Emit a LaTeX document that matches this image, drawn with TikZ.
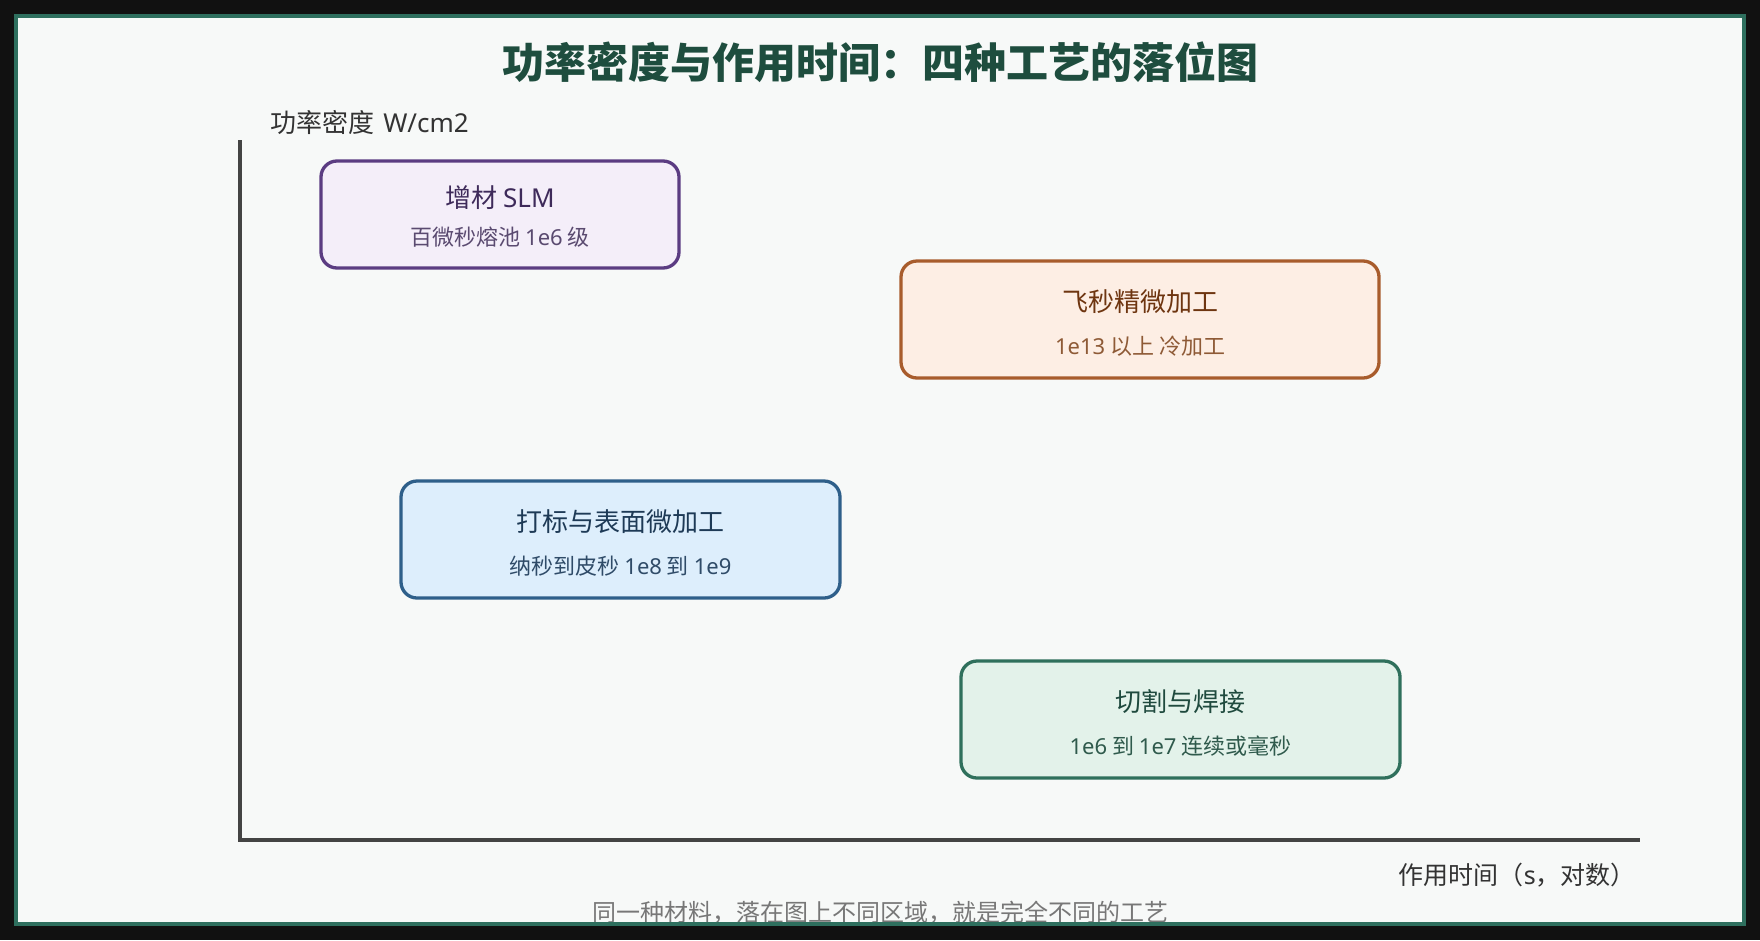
\documentclass[tikz,border=0pt]{standalone}
\usepackage{fontspec}
\setmainfont{Noto Sans CJK SC}
\newfontfamily\latinfont{Noto Sans}
\newcommand{\lword}[1]{{\latinfont #1}}
\usepackage{xcolor}
\definecolor{bgdark}{HTML}{111111}
\definecolor{paper}{HTML}{F7F9F8}
\definecolor{framegreen}{HTML}{2E6F5E}
\definecolor{titlegreen}{HTML}{1E4D3E}
\definecolor{axisgray}{HTML}{444444}
\definecolor{labelgray}{HTML}{333333}
\definecolor{captiongray}{HTML}{777777}
\definecolor{slmline}{HTML}{5B3C82}
\definecolor{slmfill}{HTML}{F4EEF9}
\definecolor{slmhead}{HTML}{3E2A5A}
\definecolor{slmnote}{HTML}{5A4A70}
\definecolor{fsline}{HTML}{A85C2C}
\definecolor{fsfill}{HTML}{FDEEE4}
\definecolor{fshead}{HTML}{6E3510}
\definecolor{fsnote}{HTML}{8E5A36}
\definecolor{markline}{HTML}{2E5F8A}
\definecolor{markfill}{HTML}{DDEEFC}
\definecolor{markhead}{HTML}{1E3A56}
\definecolor{marknote}{HTML}{2F4B68}
\definecolor{cutline}{HTML}{2F705C}
\definecolor{cutfill}{HTML}{E3F2EA}
\definecolor{cuthead}{HTML}{1F4A3E}
\definecolor{cutnote}{HTML}{2F5A4C}

\begin{document}
\begin{tikzpicture}[x=1pt,y=-1pt]
      \tikzstyle{every node}+=[inner sep=0pt]
      \tikzstyle{region}=[draw, line width=3.3pt, rounded corners=16pt, minimum height=117pt]
      \tikzstyle{head}=[font=\fontsize{26}{31}\selectfont]
      \tikzstyle{note}=[font=\fontsize{22}{26}\selectfont]
      \tikzstyle{axislabel}=[font=\fontsize{25}{30}\selectfont, text=labelgray]
      \useasboundingbox (0,0) rectangle (1760,940);
      \fill [bgdark] (0,0) rectangle (1760,940);
      \fill [paper] (16,16) rectangle (1744,924);
      \node [font=\fontsize{42}{50}\selectfont\bfseries, text=titlegreen] (title) at (880,62) {功率密度与作用时间：四种工艺的落位图};
      % axes
      \coordinate (ytop) at (240,140);
      \coordinate (origin) at (240,840);
      \coordinate (xend) at (1640,840);
      \draw [axisgray, line width=4pt] (ytop) -- (origin) -- (xend);
      \node [axislabel, font=\fontsize{26}{31}\selectfont, anchor=west] (ylabel) at (270,122) {功率密度\hspace{0.35em}\lword{W/cm2}};
      \node [axislabel, anchor=east] (xlabel) at (1636,875) {作用时间（\lword{s}，对数）};
      % regions
      \node [region, slmline, fill=slmfill, minimum width=358pt, minimum height=107pt] (slm) at (500,214.5) {};
      \node [head, text=slmhead] (slmhead) at (500,198) {增材 \lword{SLM}};
      \node [note, text=slmnote] (slmnote) at (500,237) {百微秒熔池 \lword{1e6} 级};
      \node [region, fsline, fill=fsfill, minimum width=478pt] (fs) at (1140,319.5) {};
      \node [head, text=fshead] (fshead) at (1140,302) {飞秒精微加工};
      \node [note, text=fsnote] (fsnote) at (1140,346) {\lword{1e13} 以上 冷加工};
      \node [region, markline, fill=markfill, minimum width=439pt] (mark) at (620.5,539.5) {};
      \node [head, text=markhead] (markhead) at (620.5,522) {打标与表面微加工};
      \node [note, text=marknote] (marknote) at (620.5,566) {纳秒到皮秒 \lword{1e8} 到 \lword{1e9}};
      \node [region, cutline, fill=cutfill, minimum width=439pt] (cut) at (1180.5,719.5) {};
      \node [head, text=cuthead] (cuthead) at (1180.5,702) {切割与焊接};
      \node [note, text=cutnote] (cutnote) at (1180.5,746) {\lword{1e6} 到 \lword{1e7} 连续或毫秒};
      \begin{scope}
        \clip (16,16) rectangle (1744,922);
        \node [font=\fontsize{24}{28}\selectfont, text=captiongray] (caption) at (880,913) {同一种材料，落在图上不同区域，就是完全不同的工艺};
      \end{scope}
      \draw [framegreen, line width=4pt] (16,16) rectangle (1744,924);
    \end{tikzpicture}
\end{document}
